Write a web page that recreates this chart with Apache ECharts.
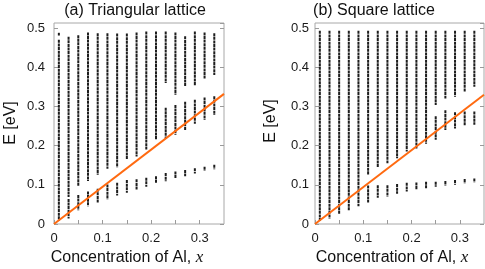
<!DOCTYPE html>
<html><head><meta charset="utf-8">
<script src="https://cdn.jsdelivr.net/npm/echarts@6/dist/echarts.min.js"></script>
<style>html,body{margin:0;padding:0;background:#fff}#c{width:485px;height:269px}</style>
</head><body><div id="c"></div>
<script>
// Concentration values (columns)
var xValues = [0.01,0.03,0.05,0.07,0.09,0.11,0.13,0.15,0.17,0.19,0.21,0.23,0.25,0.27,0.29,0.31,0.33];

// (a) Triangular lattice bands
var triTopLo   = [0.481,null,null,null,null,null,null,null,null,null,null,null,null,null,null,null,null];
var triTopHi   = [0.488,null,null,null,null,null,null,null,null,null,null,null,null,null,null,null,null];
var triUpperLo = [0.008,0.069,0.097,0.110,0.126,0.141,0.145,0.165,0.172,0.190,0.215,0.360,0.330,0.350,0.353,0.370,0.380];
var triUpperHi = [0.470,0.478,0.482,0.489,0.487,0.487,0.486,0.486,0.489,0.491,0.491,0.491,0.489,0.479,0.491,0.489,0.487];
var triMidLo   = [null,null,null,null,null,null,null,null,null,null,null,0.218,0.228,0.240,0.256,0.266,0.278];
var triMidHi   = [null,null,null,null,null,null,null,null,null,null,null,0.297,0.304,0.312,0.317,0.323,0.326];
var triLowLo   = [null,0.014,0.035,0.045,0.053,0.063,0.073,0.080,0.088,0.095,0.104,0.109,0.116,0.122,0.129,0.135,0.140];
var triLowHi   = [null,0.064,0.074,0.083,0.090,0.101,0.105,0.112,0.114,0.118,0.122,0.130,0.134,0.138,0.142,0.146,0.151];
var triLineX = [0, 0.35];
var triLineY = [0, 0.332];

// (b) Square lattice bands
var sqUpperLo = [0.007,0.014,0.026,0.035,0.045,0.125,0.145,0.155,0.168,0.185,0.193,0.205,0.304,0.320,0.325,0.338,0.350];
var sqUpperHi = [0.493,0.493,0.493,0.493,0.493,0.493,0.493,0.493,0.493,0.493,0.493,0.493,0.493,0.493,0.493,0.493,0.493];
var sqMidLo   = [null,null,null,null,null,null,null,null,null,null,null,null,0.215,0.240,0.244,0.252,0.253];
var sqMidHi   = [null,null,null,null,null,null,null,null,null,null,null,null,0.275,0.290,0.285,0.287,0.287];
var sqLowLo   = [null,null,null,null,null,0.055,0.067,0.070,0.077,0.083,0.087,0.090,0.095,0.098,0.100,0.104,0.106];
var sqLowHi   = [null,null,null,null,null,0.098,0.099,0.099,0.102,0.105,0.106,0.108,0.108,0.110,0.112,0.115,0.116];
var sqLineX = [0, 0.35];
var sqLineY = [0, 0.330];

var xTicks = [0, 0.1, 0.2, 0.3];
var yTicks = [0, 0.1, 0.2, 0.3, 0.4, 0.5];

function bands(pairs) {
  var out = [];
  pairs.forEach(function (p) {
    for (var i = 0; i < xValues.length; i++) {
      if (p[0][i] != null && p[1][i] != null) out.push([xValues[i], p[0][i], p[1][i]]);
    }
  });
  return out;
}
function renderBand(params, api) {
  var top = api.coord([api.value(0), api.value(2)]);
  var bot = api.coord([api.value(0), api.value(1)]);
  return {
    type: 'line',
    shape: { x1: top[0], y1: top[1], x2: bot[0], y2: Math.max(bot[1], top[1] + 1.5) },
    style: { stroke: '#111', lineWidth: 2, lineDash: [3, 0.6], opacity: 0.95 }
  };
}
function fmtX(v) {
  for (var i = 0; i < xTicks.length; i++) if (Math.abs(v - xTicks[i]) < 1e-6) return v === 0 ? '0' : v.toFixed(1);
  return '';
}
function fmtY(v) {
  for (var i = 0; i < yTicks.length; i++) if (Math.abs(v - yTicks[i]) < 1e-6) return v === 0 ? '0' : v.toFixed(1);
  return '';
}
var font = 'Liberation Sans, Arial, sans-serif';
function xAxis(g, margin) {
  return { gridIndex: g, type: 'value', min: 0, max: 0.35, interval: 0.05,
    axisLine: { show: false },
    axisTick: { inside: true, length: 4, lineStyle: { color: '#9a9a9a' } },
    axisLabel: { formatter: fmtX, margin: margin, color: '#1a1a1a', fontSize: 13, fontFamily: font, showMaxLabel: false },
    splitLine: { show: false } };
}
function yAxis(g, margin, pos) {
  return { gridIndex: g, type: 'value', min: 0, max: 0.513, interval: 0.1, position: pos,
    axisLine: { show: false },
    axisTick: { inside: true, length: 4, lineStyle: { color: '#9a9a9a' } },
    axisLabel: pos === 'left' ? { formatter: fmtY, margin: margin, color: '#1a1a1a', fontSize: 13, fontFamily: font, showMaxLabel: false } : { show: false },
    splitLine: { show: false } };
}
function lineData(xs, ys) { return xs.map(function (x, i) { return [x, ys[i]]; }); }

var chart = echarts.init(document.getElementById('c'), null, { renderer: 'canvas' });
chart.setOption({
  animation: false,
  backgroundColor: '#fff',
  grid: [
    { left: 54, top: 23, width: 170, height: 201, show: true, borderColor: '#a8a8a8', borderWidth: 1, backgroundColor: 'transparent' },
    { left: 315, top: 23, width: 169, height: 201, show: true, borderColor: '#a8a8a8', borderWidth: 1, backgroundColor: 'transparent' }
  ],
  xAxis: [xAxis(0, 8), xAxis(1, 8)],
  yAxis: [yAxis(0, 9, 'left'), yAxis(0, 9, 'right'), yAxis(1, 6, 'left'), yAxis(1, 6, 'right')],
  series: [
    { type: 'custom', xAxisIndex: 0, yAxisIndex: 0, renderItem: renderBand,
      data: bands([[triTopLo, triTopHi], [triUpperLo, triUpperHi], [triMidLo, triMidHi], [triLowLo, triLowHi]]), z: 2 },
    { type: 'line', xAxisIndex: 0, yAxisIndex: 0, data: lineData(triLineX, triLineY), symbol: 'none',
      lineStyle: { color: '#ff6a10', width: 2 }, z: 5 },
    { type: 'custom', xAxisIndex: 1, yAxisIndex: 2, renderItem: renderBand,
      data: bands([[sqUpperLo, sqUpperHi], [sqMidLo, sqMidHi], [sqLowLo, sqLowHi]]), z: 2 },
    { type: 'line', xAxisIndex: 1, yAxisIndex: 2, data: lineData(sqLineX, sqLineY), symbol: 'none',
      lineStyle: { color: '#ff6a10', width: 2 }, z: 5 }
  ],
  graphic: [
    { type: 'text', x: 135, y: 11, style: { text: '(a) Triangular lattice', font: '16px ' + font, fill: '#111', textAlign: 'center', textVerticalAlign: 'middle' } },
    { type: 'text', x: 374, y: 11, style: { text: '(b) Square lattice', font: '16px ' + font, fill: '#111', textAlign: 'center', textVerticalAlign: 'middle' } },
    { type: 'text', x: 11, y: 123, rotation: Math.PI / 2, style: { text: 'E [eV]', font: '16px ' + font, fill: '#111', textAlign: 'center', textVerticalAlign: 'middle' } },
    { type: 'text', x: 271, y: 121, rotation: Math.PI / 2, style: { text: 'E [eV]', font: '16px ' + font, fill: '#111', textAlign: 'center', textVerticalAlign: 'middle' } },
    { type: 'text', x: 127, y: 258, style: { text: '{n|Concentration of Al, }{i|x}', textAlign: 'center', textVerticalAlign: 'middle',
      rich: { n: { font: '16px ' + font, fill: '#111' }, i: { font: 'italic 17px Liberation Serif, serif', fill: '#111' } } } },
    { type: 'text', x: 392, y: 258, style: { text: '{n|Concentration of Al, }{i|x}', textAlign: 'center', textVerticalAlign: 'middle',
      rich: { n: { font: '16px ' + font, fill: '#111' }, i: { font: 'italic 17px Liberation Serif, serif', fill: '#111' } } } }
  ]
});
</script></body></html>
